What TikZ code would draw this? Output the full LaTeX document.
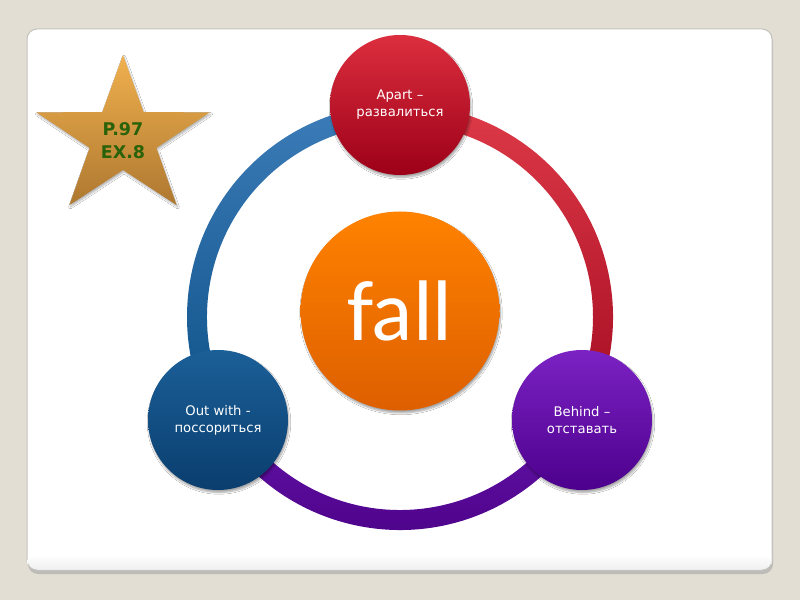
\documentclass[tikz,border=0pt]{standalone}
\usepackage{fontspec}
\newfontfamily\lbl{DejaVu Sans}
\newfontfamily\fallfont{Carlito}
\usetikzlibrary{shadows.blur,calc}
\definecolor{pagebg}{HTML}{E3DED3}
\definecolor{framebd}{HTML}{C4C2BE}
\definecolor{redA}{HTML}{DC2E3E}
\definecolor{redB}{HTML}{9C0018}
\definecolor{ringRedA}{HTML}{DE3A48}
\definecolor{ringRedB}{HTML}{A30A20}
\definecolor{blueA}{HTML}{1B5F98}
\definecolor{blueB}{HTML}{0A3E6E}
\definecolor{ringBlueA}{HTML}{3C7CB8}
\definecolor{ringBlueB}{HTML}{0D5087}
\definecolor{purA}{HTML}{7C22C4}
\definecolor{purB}{HTML}{4C008C}
\definecolor{ringPurA}{HTML}{6414A8}
\definecolor{ringPurB}{HTML}{4A0085}
\definecolor{orgA}{HTML}{FF8200}
\definecolor{orgB}{HTML}{DD5F00}
\definecolor{starA}{HTML}{F0B04E}
\definecolor{starB}{HTML}{AE7830}
\definecolor{startxt}{HTML}{2A620A}
\tikzset{
  bubble/.style={circle, minimum size=140pt, inner sep=0pt, align=center,
    text=white, font=\lbl\fontsize{13.2}{17}\selectfont,
    blur shadow={shadow blur steps=6, shadow xshift=1pt, shadow yshift=-2.5pt, shadow opacity=35}},
  hub/.style={circle, minimum size=199pt, inner sep=0pt, text=white,
    font=\fallfont\fontsize{86}{94}\selectfont, top color=orgA, bottom color=orgB,
    blur shadow={shadow blur steps=6, shadow xshift=1pt, shadow yshift=-2.5pt, shadow opacity=35}},
}
\begin{document}
\begin{tikzpicture}[x=1pt,y=1pt]
\useasboundingbox (0,0) rectangle (800,600);
\fill[pagebg] (0,0) rectangle (800,600);
% frame
\fill[black!35,opacity=0.6,rounded corners=10pt] (28,26) rectangle (773,568);
\fill[white,draw=framebd,line width=1pt,rounded corners=10pt] (27,30) rectangle (772,571);
\shade[top color=white,bottom color=black!6,rounded corners=10pt] (27.5,30.5) rectangle (771.5,46);
\shade[top color=white,bottom color=white] (28,44) rectangle (771,52);
\coordinate (c) at (400,283);
% ring segments
\shade[top color=ringRedA,bottom color=ringRedB]
  ($(c)+(-30:213)$) arc[start angle=-30,end angle=90,radius=213]
  -- ($(c)+(90:193)$) arc[start angle=90,end angle=-30,radius=193] -- cycle;
\shade[top color=ringBlueA,bottom color=ringBlueB]
  ($(c)+(90:213)$) arc[start angle=90,end angle=210,radius=213]
  -- ($(c)+(210:193)$) arc[start angle=210,end angle=90,radius=193] -- cycle;
\shade[top color=ringPurA,bottom color=ringPurB]
  ($(c)+(210:213)$) arc[start angle=210,end angle=330,radius=213]
  -- ($(c)+(330:193)$) arc[start angle=330,end angle=210,radius=193] -- cycle;
% circles
\node[hub] (fall) at (400,289) {fall};
\node[bubble, top color=redA, bottom color=redB] (apart) at (400,495) {Apart –\\развалиться};
\node[bubble, top color=blueA, bottom color=blueB] (out) at (218,180) {Out with -\\поссориться};
\node[bubble, top color=purA, bottom color=purB] (behind) at (582,180) {Behind –\\отставать};
% star
\begin{scope}[shift={(123,462)}, xscale=1.1]
\shade[top color=starA, bottom color=starB, blur shadow={shadow blur steps=5, shadow xshift=1pt, shadow yshift=-2pt, shadow opacity=30}]
  (90:83) -- (126:32) -- (162:83) -- (198:32) -- (234:83) -- (270:32)
  -- (306:83) -- (342:32) -- (18:83) -- (54:32) -- cycle;
\end{scope}
\node[align=center, text=startxt, font=\lbl\bfseries\fontsize{17.5}{23}\selectfont] (star) at (123,459) {P.97\\EX.8};
\end{tikzpicture}
\end{document}
